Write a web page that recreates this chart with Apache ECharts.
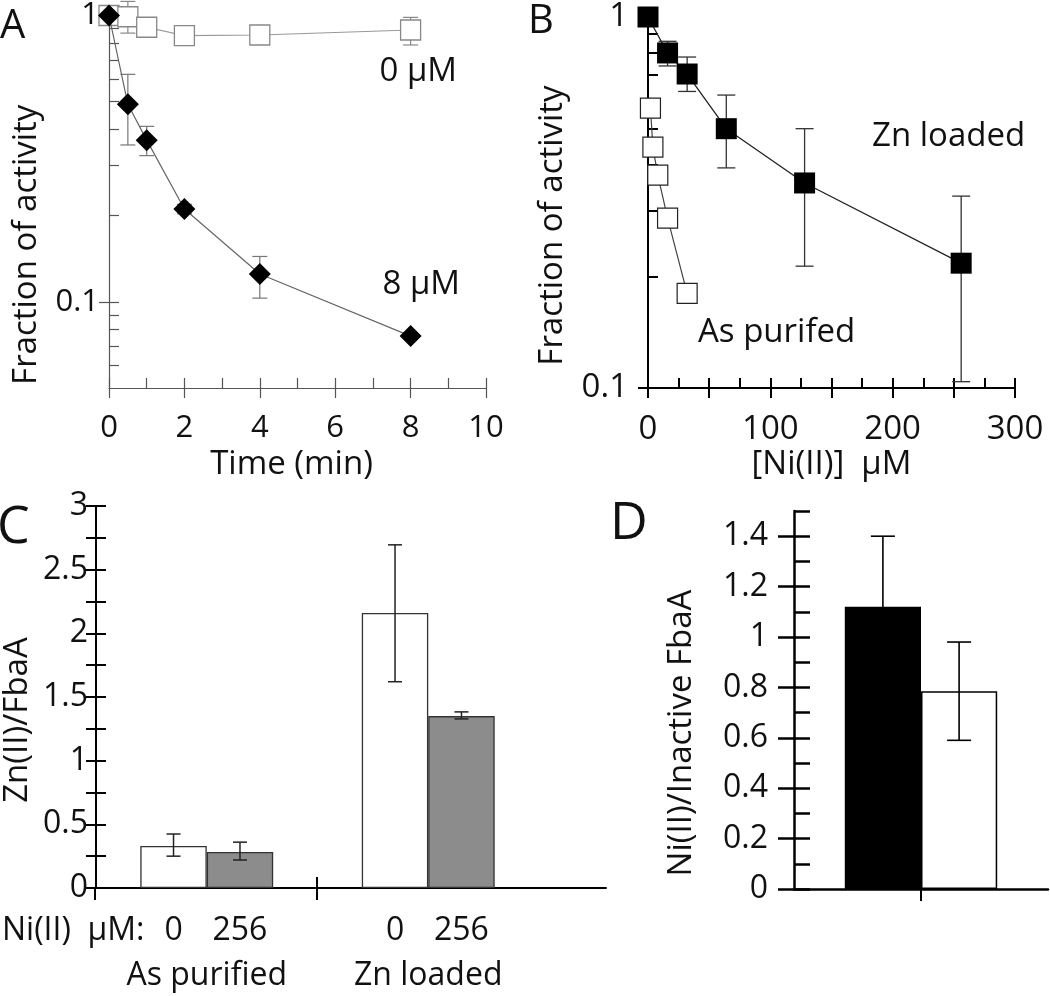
<!DOCTYPE html>
<html><head><meta charset="utf-8">
<script src="https://cdn.jsdelivr.net/npm/echarts@6/dist/echarts.min.js"></script>
<style>html,body{margin:0;padding:0;background:#fff}#c{width:1050px;height:996px}</style>
</head><body><div id="c"></div>
<script>
// ---------- Panel A data ----------
const timeMin = [0, 0.5, 1, 2, 4, 8];
const act0uM = [1.0, 0.99, 0.91, 0.85, 0.855, 0.89];
const act0uMLo = [null, 0.868, null, null, null, 0.789];
const act0uMHi = [null, 1.12, null, null, null, 0.985];
const act8uM = [1.0, 0.49, 0.367, 0.211, 0.125, 0.0759];
const act8uMLo = [null, 0.353, 0.324, 0.203, 0.103, null];
const act8uMHi = [null, 0.623, 0.41, 0.219, 0.144, null];
// ---------- Panel B data ----------
const niZn = [0, 16, 32, 64, 128, 256];
const actZn = [1.0, 0.8, 0.702, 0.5, 0.357, 0.217];
const actZnLo = [null, 0.738, 0.63, 0.392, 0.213, 0.104];
const actZnHi = [null, 0.86, 0.78, 0.616, 0.5, 0.329];
const niAs = [2, 4, 8, 16, 32];
const actAs = [0.568, 0.446, 0.375, 0.287, 0.18];
const niTickLabels = [0, 100, 200, 300];
// ---------- Panel C data ----------
const groupsC = ['As purified', 'Zn loaded'];
const niLabelsC = ['0', '256'];
const zn0 = [0.33, 2.16];
const zn0Lo = [0.25, 1.62];
const zn0Hi = [0.424, 2.695];
const zn256 = [0.283, 1.35];
const zn256Lo = [0.22, 1.328];
const zn256Hi = [0.36, 1.383];
const cTickLabels = [0, 0.5, 1, 1.5, 2, 2.5, 3];
// ---------- Panel D data ----------
const niInact = [1.12, 0.785];
const niInactLo = [0.84, 0.59];
const niInactHi = [1.40, 0.98];
const dTickLabels = [0, 0.2, 0.4, 0.6, 0.8, 1, 1.2, 1.4];
// log ticks
const logMinorA = [0.06, 0.07, 0.08, 0.09, 0.1, 0.2, 0.3, 0.4, 0.5, 0.6, 0.7, 0.8, 0.9, 1];
const logMinorB = [0.2, 0.3, 0.4, 0.5, 0.6, 0.7, 0.8, 0.9];
const logMajor = [0.1, 1];

const FF = "'Open Sans', 'Noto Sans', sans-serif";
const TXT = '#111';

function errData(xs, lo, hi) {
  const out = [];
  xs.forEach((x, i) => { if (lo[i] != null && hi[i] != null) out.push([x, lo[i], hi[i]]); });
  return out;
}
function errRender(capW, color, lw, offsetFrac) {
  return function (params, api) {
    const x = api.value(0), lo = api.value(1), hi = api.value(2);
    const p1 = api.coord([x, lo]), p2 = api.coord([x, hi]);
    const dx = offsetFrac ? api.size([1, 0])[0] * offsetFrac : 0;
    const cx = p1[0] + dx;
    const st = { stroke: color, lineWidth: lw };
    return { type: 'group', children: [
      { type: 'line', shape: { x1: cx, y1: p1[1], x2: cx, y2: p2[1] }, style: st },
      { type: 'line', shape: { x1: cx - capW / 2, y1: p1[1], x2: cx + capW / 2, y2: p1[1] }, style: st },
      { type: 'line', shape: { x1: cx - capW / 2, y1: p2[1], x2: cx + capW / 2, y2: p2[1] }, style: st }
    ]};
  };
}
const zip = (a, b) => a.map((v, i) => [v, b[i]]);
const lblA = { fontSize: 31, color: TXT, fontFamily: FF };
const nameSt = (pad) => ({ fontSize: 33, color: TXT, fontFamily: FF, padding: pad });

const lineA = { color: '#555', width: 1.2 };
const lineB = { color: '#000', width: 2 };
const lineD = { color: '#000', width: 2.5 };
const AL = (st) => ({ show: true, onZero: false, lineStyle: st });
const NOLINE = { show: false };
const TK = (inside, len, st, custom) => {
  const t = { show: true, inside: inside, length: len, lineStyle: st };
  if (custom) t.customValues = custom;
  return t;
};

const xAxis = [
  // A (0,1)
  { gridIndex: 0, type: 'value', min: 0, max: 10, interval: 2, position: 'bottom',
    axisLine: AL(lineA), axisTick: TK(false, 10, lineA),
    axisLabel: Object.assign({ margin: 25 }, lblA), splitLine: { show: false },
    name: 'Time (min)', nameLocation: 'middle', nameGap: 60, nameTextStyle: nameSt([0, 12, 0, 0]) },
  { gridIndex: 0, type: 'value', min: 0, max: 10, interval: 1, position: 'bottom',
    axisLine: NOLINE, axisTick: TK(true, 10, lineA),
    axisLabel: { show: false }, splitLine: { show: false } },
  // B (2,3)
  { gridIndex: 1, type: 'value', min: 0, max: 300, interval: 50, position: 'bottom',
    axisLine: AL(lineB), axisTick: TK(false, 10, lineB),
    axisLabel: Object.assign({ margin: 25, customValues: niTickLabels }, lblA, { fontSize: 33 }), splitLine: { show: false },
    name: '[Ni(II)]  µM', nameLocation: 'middle', nameGap: 60, nameTextStyle: nameSt([0, 0, 0, 0]) },
  { gridIndex: 1, type: 'value', min: 0, max: 300, interval: 25, position: 'bottom',
    axisLine: NOLINE, axisTick: TK(true, 10, lineB),
    axisLabel: { show: false }, splitLine: { show: false } },
  // C (4) categories
  { gridIndex: 2, type: 'category', data: groupsC, position: 'bottom',
    axisLine: NOLINE, axisTick: { show: false },
    axisLabel: Object.assign({ margin: 72 }, lblA, { fontSize: 32 }) },
  // C (5,6) baseline + group separator ticks, on the wider frame grid
  { gridIndex: 4, type: 'value', min: 0, max: 2.3, position: 'bottom',
    axisLine: AL(lineB), axisTick: TK(false, 12, lineB, [0, 1]),
    axisLabel: { show: false }, splitLine: { show: false } },
  { gridIndex: 4, type: 'value', min: 0, max: 2.3, position: 'bottom',
    axisLine: NOLINE, axisTick: TK(true, 11, lineB, [1]),
    axisLabel: { show: false }, splitLine: { show: false } },
  // D (7) category, (8,9) centre tick
  { gridIndex: 3, type: 'category', data: [''], position: 'bottom',
    axisLine: AL(lineD), axisTick: { show: false }, axisLabel: { show: false } },
  { gridIndex: 3, type: 'value', min: 0, max: 1, position: 'bottom',
    axisLine: NOLINE, axisTick: TK(false, 12, lineB, [0.5]),
    axisLabel: { show: false }, splitLine: { show: false } },
  { gridIndex: 3, type: 'value', min: 0, max: 1, position: 'bottom',
    axisLine: NOLINE, axisTick: TK(true, 12, lineB, [0.5]),
    axisLabel: { show: false }, splitLine: { show: false } }
];

const yAxis = [
  // A (0,1)
  { gridIndex: 0, type: 'log', logBase: 10, min: 0.05, max: 1, position: 'left',
    axisLine: AL(lineA), axisTick: TK(false, 10, lineA, logMajor),
    axisLabel: Object.assign({ margin: 10, customValues: logMajor }, lblA), splitLine: { show: false },
    name: 'Fraction of activity', nameLocation: 'middle', nameGap: 66, nameTextStyle: nameSt([0, 86, 0, 0]) },
  { gridIndex: 0, type: 'log', logBase: 10, min: 0.05, max: 1, position: 'left',
    axisLine: NOLINE, axisTick: TK(true, 10, lineA, logMinorA),
    axisLabel: { show: false }, splitLine: { show: false } },
  // B (2,3)
  { gridIndex: 1, type: 'log', logBase: 10, min: 0.1, max: 1, position: 'left',
    axisLine: AL(lineB), axisTick: TK(false, 10, lineB, logMajor),
    axisLabel: Object.assign({ margin: 20, customValues: logMajor }, lblA, { fontSize: 33 }), splitLine: { show: false },
    name: 'Fraction of activity', nameLocation: 'middle', nameGap: 79, nameTextStyle: nameSt([0, 46, 0, 0]) },
  { gridIndex: 1, type: 'log', logBase: 10, min: 0.1, max: 1, position: 'left',
    axisLine: NOLINE, axisTick: TK(true, 10, lineB, logMinorB.concat(logMajor)),
    axisLabel: { show: false }, splitLine: { show: false } },
  // C (4,5)
  { gridIndex: 2, type: 'value', min: 0, max: 3, interval: 0.25, position: 'left',
    axisLine: AL(lineB), axisTick: TK(false, 10, lineB),
    axisLabel: Object.assign({ margin: 8, customValues: cTickLabels }, lblA, { fontSize: 32 }), splitLine: { show: false },
    name: 'Zn(II)/FbaA', nameLocation: 'middle', nameGap: 62, nameTextStyle: nameSt([0, 46, 0, 0]) },
  { gridIndex: 2, type: 'value', min: 0, max: 3, interval: 0.25, position: 'left',
    axisLine: NOLINE, axisTick: TK(true, 10, lineB),
    axisLabel: { show: false }, splitLine: { show: false } },
  // D (6,7)
  { gridIndex: 3, type: 'value', min: 0, max: 1.5, interval: 0.1, position: 'left',
    axisLine: AL(lineD), axisTick: TK(false, 16, lineD, dTickLabels),
    axisLabel: Object.assign({ margin: 26, customValues: dTickLabels }, lblA, { fontSize: 32 }), splitLine: { show: false },
    name: 'Ni(II)/Inactive FbaA', nameLocation: 'middle', nameGap: 96, nameTextStyle: nameSt([0, 66, 0, 0]) },
  { gridIndex: 3, type: 'value', min: 0, max: 1.5, interval: 0.1, position: 'left',
    axisLine: NOLINE, axisTick: TK(true, 16, lineD),
    axisLabel: { show: false }, splitLine: { show: false } },
  // frame grid for C baseline (8)
  { gridIndex: 4, type: 'value', min: 0, max: 3, show: false }
];

const barLabel = (txt) => ({ show: true, position: 'bottom', distance: 27, formatter: txt,
  fontSize: 32, color: TXT, fontFamily: FF });

const series = [
  // A
  { type: 'custom', xAxisIndex: 0, yAxisIndex: 0, z: 1, renderItem: errRender(15, '#888', 1.2, 0),
    data: errData(timeMin, act0uMLo, act0uMHi), encode: { x: 0, y: [1, 2] } },
  { type: 'custom', xAxisIndex: 0, yAxisIndex: 0, z: 1, renderItem: errRender(15, '#777', 1.2, 0),
    data: errData(timeMin, act8uMLo, act8uMHi), encode: { x: 0, y: [1, 2] } },
  { type: 'line', name: '0 µM', xAxisIndex: 0, yAxisIndex: 0, z: 3, data: zip(timeMin, act0uM),
    symbol: 'rect', symbolSize: 20, lineStyle: { color: '#999', width: 1.2 },
    itemStyle: { color: '#fff', borderColor: '#888', borderWidth: 1.3 } },
  { type: 'line', name: '8 µM', xAxisIndex: 0, yAxisIndex: 0, z: 4, data: zip(timeMin, act8uM),
    symbol: 'diamond', symbolSize: 22, lineStyle: { color: '#666', width: 1.2 },
    itemStyle: { color: '#000' } },
  // B
  { type: 'custom', xAxisIndex: 2, yAxisIndex: 2, z: 1, renderItem: errRender(18, '#333', 1.3, 0),
    data: errData(niZn, actZnLo, actZnHi), encode: { x: 0, y: [1, 2] } },
  { type: 'line', name: 'As purifed', xAxisIndex: 2, yAxisIndex: 2, z: 3, data: zip(niAs, actAs),
    symbol: 'rect', symbolSize: 20, lineStyle: { color: '#444', width: 1.2 },
    itemStyle: { color: '#fff', borderColor: '#222', borderWidth: 1.2 } },
  { type: 'line', name: 'Zn loaded', xAxisIndex: 2, yAxisIndex: 2, z: 4, data: zip(niZn, actZn),
    symbol: 'rect', symbolSize: 21, lineStyle: { color: '#222', width: 1.3 },
    itemStyle: { color: '#000' } },
  // C
  { type: 'bar', name: '0 µM Ni(II)', xAxisIndex: 4, yAxisIndex: 4, data: zn0, barWidth: '30%', barGap: '0%',
    itemStyle: { color: '#fff', borderColor: '#333', borderWidth: 1.3 }, label: barLabel(niLabelsC[0]) },
  { type: 'bar', name: '256 µM Ni(II)', xAxisIndex: 4, yAxisIndex: 4, data: zn256, barWidth: '30%', barGap: '0%',
    itemStyle: { color: '#8c8c8c', borderColor: '#333', borderWidth: 1.3 }, label: barLabel(niLabelsC[1]) },
  { type: 'custom', xAxisIndex: 4, yAxisIndex: 4, z: 5, renderItem: errRender(14, '#222', 1.5, -0.15),
    data: errData([0, 1], zn0Lo, zn0Hi), encode: { x: 0, y: [1, 2] } },
  { type: 'custom', xAxisIndex: 4, yAxisIndex: 4, z: 5, renderItem: errRender(14, '#222', 1.5, 0.15),
    data: errData([0, 1], zn256Lo, zn256Hi), encode: { x: 0, y: [1, 2] } },
  // D
  { type: 'bar', name: 'black', xAxisIndex: 7, yAxisIndex: 6, data: [niInact[0]], barWidth: '30%', barGap: '0%',
    itemStyle: { color: '#000', borderColor: '#000', borderWidth: 1.5 } },
  { type: 'bar', name: 'white', xAxisIndex: 7, yAxisIndex: 6, data: [niInact[1]], barWidth: '30%', barGap: '0%',
    itemStyle: { color: '#fff', borderColor: '#000', borderWidth: 1.5 } },
  { type: 'custom', xAxisIndex: 7, yAxisIndex: 6, z: 5, renderItem: errRender(24, '#000', 1.6, -0.15),
    data: errData([0], [niInactLo[0]], [niInactHi[0]]), encode: { x: 0, y: [1, 2] } },
  { type: 'custom', xAxisIndex: 7, yAxisIndex: 6, z: 5, renderItem: errRender(24, '#000', 1.6, 0.15),
    data: errData([0], [niInactLo[1]], [niInactHi[1]]), encode: { x: 0, y: [1, 2] } }
];

function txt(s, x, y, size, align) {
  return { type: 'text', x: x, y: y, z: 100,
    style: { text: s, fontSize: size, fontFamily: FF, fill: TXT, align: align || 'left', verticalAlign: 'middle' } };
}

const option = {
  animation: false,
  backgroundColor: '#fff',
  grid: [
    { left: 109, right: 1050 - 486, top: 10, bottom: 996 - 388, containLabel: false },
    { left: 648, right: 1050 - 1015, top: 17, bottom: 996 - 388, containLabel: false },
    { left: 95, right: 1050 - 539, top: 506, bottom: 996 - 888, containLabel: false },
    { left: 794, right: 2, top: 511, bottom: 996 - 889, containLabel: false },
    { left: 95, right: 1050 - 606, top: 506, bottom: 996 - 888, containLabel: false }
  ],
  xAxis: xAxis,
  yAxis: yAxis,
  series: series,
  graphic: [
    txt('A', 0, 27, 40), txt('B', 528, 22, 40), txt('C', -3, 528, 52), txt('D', 610, 524, 52),
    txt('0 µM', 457, 72, 33, 'right'), txt('8 µM', 460, 285, 33, 'right'),
    txt('Zn loaded', 872, 137, 33), txt('As purifed', 698, 333, 33),
    txt('Ni(II)  µM:', 2, 931, 32)
  ]
};
const chart = echarts.init(document.getElementById('c'));
chart.setOption(option);
</script>
</body></html>
